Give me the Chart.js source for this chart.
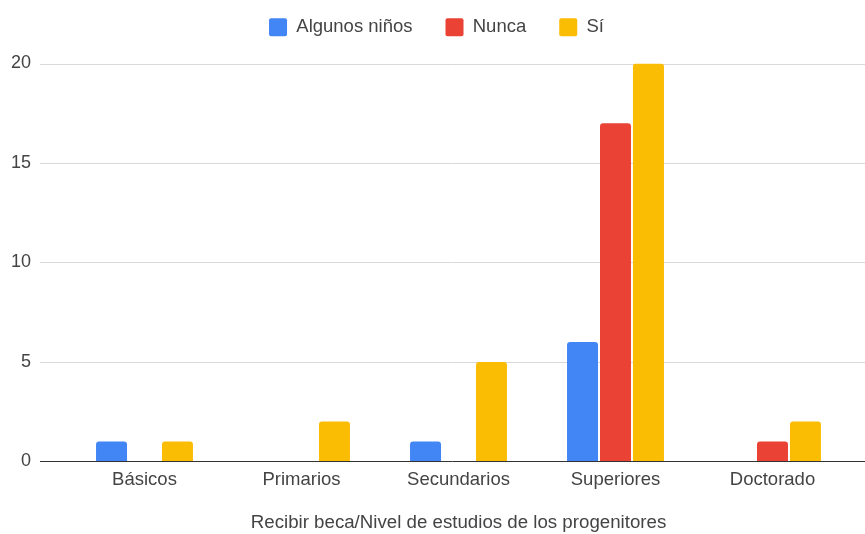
<!DOCTYPE html>
<html>
<head>
<meta charset="utf-8">
<script src="https://cdn.jsdelivr.net/npm/chart.js@4"></script>
<style>
  html,body{margin:0;padding:0;background:#fff;}
  #wrap{width:865px;height:534px;position:relative;}
</style>
</head>
<body>
<div id="wrap"><canvas id="chart" width="865" height="534"></canvas></div>
<script>
// ── Data ──
const categories = ['Básicos', 'Primarios', 'Secundarios', 'Superiores', 'Doctorado'];
const algunosNinos = [1, 0, 1, 6, 0];
const nunca = [0, 0, 0, 17, 1];
const si = [1, 2, 5, 20, 2];
const yTicks = [0, 5, 10, 15, 20];

const FONT = '"Liberation Sans", Arial, sans-serif';
Chart.defaults.font.family = FONT;
Chart.defaults.font.size = 18;
Chart.defaults.color = '#444';

// extra room under the legend (Sheets leaves a gap before the plot),
// and centre it on the whole canvas rather than the padded area
const legendGap = {
  id: 'legendGap',
  beforeInit(chart) {
    const lg = chart.legend;
    if (!lg) return;
    const fit = lg.fit;
    lg.fit = function(){ fit.call(this); this.height += 17; };
    const draw = lg.draw;
    lg.draw = function(){
      const ctx = this.ctx;
      ctx.save(); ctx.translate(11, 0);
      draw.apply(this, arguments);
      ctx.restore();
    };
  }
};

// wide gridlines (they run past the plot area, as in Sheets) + dark baseline
const gridPlugin = {
  id: 'sheetGrid',
  beforeDatasetsDraw(chart) {
    const {ctx, scales:{y}} = chart;
    ctx.save();
    ctx.strokeStyle = '#d9d9d9';
    ctx.lineWidth = 1;
    yTicks.forEach(v => {
      if (v === 0) return;
      const py = Math.round(y.getPixelForValue(v)) + 0.5;
      ctx.beginPath(); ctx.moveTo(40, py); ctx.lineTo(chart.width, py); ctx.stroke();
    });
    ctx.restore();
  },
  afterDatasetsDraw(chart) {
    const {ctx, scales:{y}} = chart;
    const py = Math.round(y.getPixelForValue(0)) + 0.5;
    ctx.save();
    ctx.strokeStyle = '#333';
    ctx.lineWidth = 1;
    ctx.beginPath(); ctx.moveTo(40, py); ctx.lineTo(chart.width, py); ctx.stroke();
    ctx.restore();
  }
};

const mkSet = (label, data, color) => ({
  label, data,
  backgroundColor: color,
  borderWidth: 0,
  borderRadius: {topLeft: 3, topRight: 3, bottomLeft: 0, bottomRight: 0},
  borderSkipped: 'bottom',
  categoryPercentage: 0.63,
  barPercentage: 0.94
});

new Chart(document.getElementById('chart'), {
  type: 'bar',
  data: {
    labels: categories,
    datasets: [
      mkSet('Algunos niños', algunosNinos, '#4285f4'),
      mkSet('Nunca', nunca, '#ea4335'),
      mkSet('Sí', si, '#fbbc04')
    ]
  },
  options: {
    responsive: false,
    animation: false,
    layout: {padding: {left: 0, right: 14, top: -15, bottom: 0}},
    plugins: {
      legend: {
        position: 'top',
        labels: {
          boxWidth: 18, boxHeight: 18, padding: 33,
          color: '#444', font: {size: 18.5},
          generateLabels(chart) {
            return chart.data.datasets.map((ds, i) => ({
              text: ds.label, fillStyle: ds.backgroundColor, strokeStyle: ds.backgroundColor,
              fontColor: '#444', lineWidth: 0, borderRadius: 2, datasetIndex: i, hidden: false
            }));
          }
        }
      },
      tooltip: {enabled: false}
    },
    scales: {
      x: {
        grid: {display: false, drawTicks: false},
        border: {display: false},
        ticks: {padding: 7, color: '#444', font: {size: 18.5}},
        title: {display: true, text: 'Recibir beca/Nivel de estudios de los progenitores', color: '#444', font: {size: 18.7}, padding: {top: 14, bottom: 0}}
      },
      y: {
        min: 0, max: 20,
        afterFit(scale) { scale.width = 66; },
        grid: {display: false, drawTicks: false},
        border: {display: false},
        ticks: {stepSize: 5, padding: 35, color: '#444', font: {size: 18}}
      }
    }
  },
  plugins: [legendGap, gridPlugin]
});
</script>
</body>
</html>
